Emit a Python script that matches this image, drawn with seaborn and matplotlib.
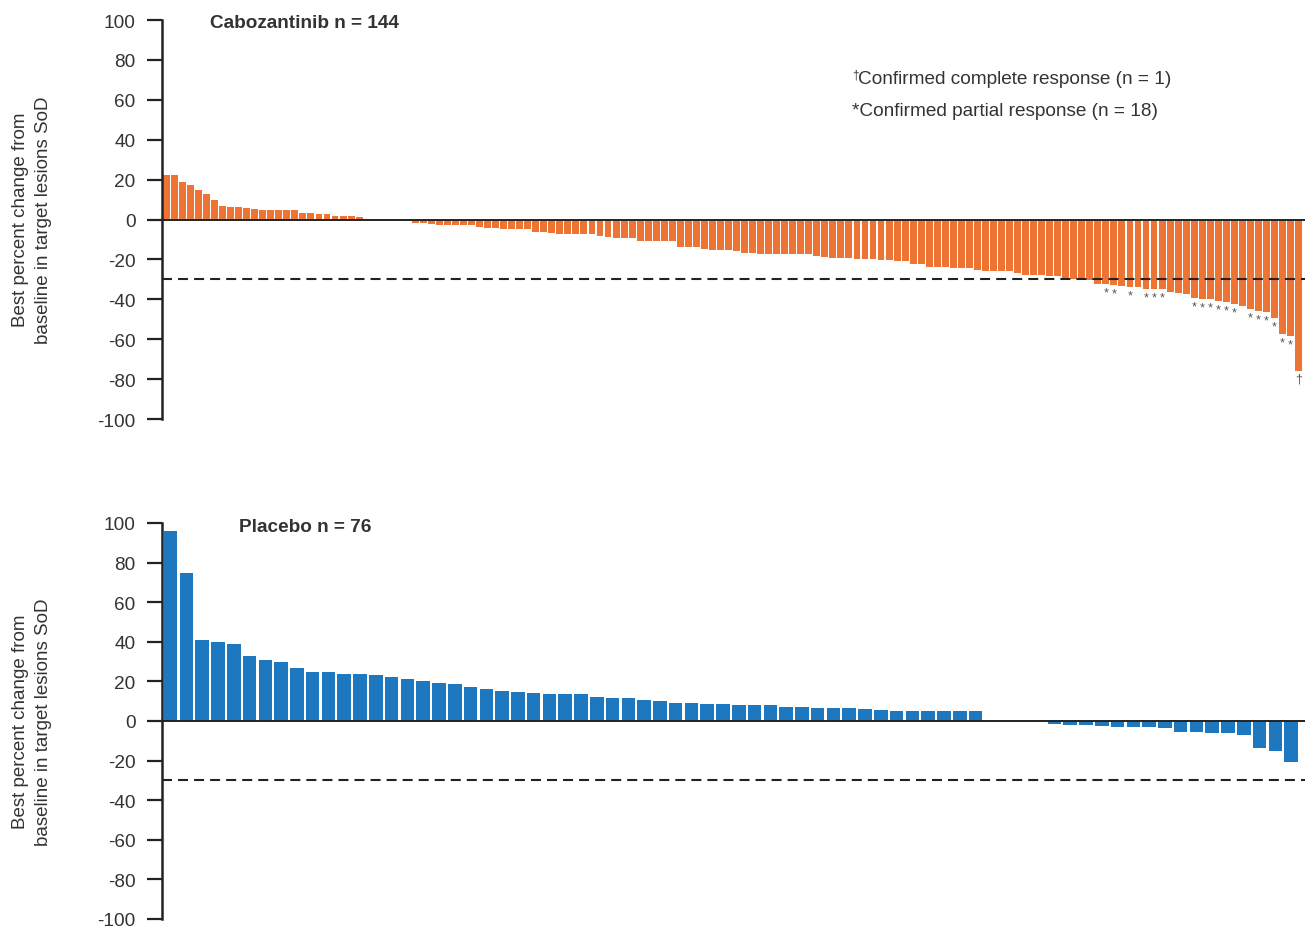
import numpy as np
import pandas as pd
import matplotlib
matplotlib.use("Agg")
import matplotlib.pyplot as plt
import seaborn as sns

# Best percent change from baseline in target-lesion sum of diameters, one bar per patient
cabo_values = [
    22.5, 22.5, 19, 17.5, 15, 12.8, 10, 7, 6.5, 6.5, 6, 5.5, 5, 5, 5, 5, 5,
    3.3, 3.3, 3, 3, 2, 2, 2, 1.3,
    0, 0, 0, 0, 0, 0,
    -1.8, -1.8, -2.2, -2.7, -2.7, -2.7, -3, -3, -3.8, -4.3, -4.3, -4.8, -4.8,
    -4.8, -4.8, -6.2, -6.2, -6.7, -7.2, -7.2, -7.2, -7.2, -7.2, -8.5, -9,
    -9.5, -9.5, -9.5, -10.7, -10.7, -11, -11, -11, -14, -14,
    -14, -14.7, -15.3, -15.3, -15.3, -15.8, -16.7, -17, -17.5, -17.5, -17.5,
    -17.5, -17.5, -17.5, -17.5, -18.3, -18.7, -19.2, -19.2, -19.2, -19.7,
    -19.7, -20, -20.3, -20.3, -20.8, -20.8, -22.2, -22.5, -23.7, -23.7,
    -23.7, -24.2, -24.2, -24.2, -25.5, -25.8, -25.8,
    -25.8, -25.8, -27, -27.8, -27.8, -27.8, -28.3, -28.3, -29.2, -30, -30,
    -30.3, -32.5, -32.5, -33, -33.3, -33.7, -33.7, -34.7, -35, -35, -36.3,
    -36.7, -37.5, -39.2, -39.7, -40, -40.8, -41.3, -42.5, -43.3, -45, -45.8,
    -46.3, -49.2, -57.5, -58.3, -75.8,
]
# bars with a confirmed partial (*) or complete (†) response
cabo_partial_response = [117, 118, 120, 122, 123, 124, 128, 129, 130, 131,
                         132, 133, 135, 136, 137, 138, 139, 140]
cabo_complete_response = [141]

placebo_values = [
    96, 74.5, 41, 40, 39, 33, 31, 30, 27, 24.7,
    24.7, 23.8, 23.8, 23, 22, 21.2, 20.1, 19, 18.6, 17,
    16.1, 15.2, 14.7, 14, 13.5, 13.5, 13.5, 12.2, 11.4, 11.4,
    10.7, 10, 9.3, 9, 8.5, 8.5, 8, 8, 8, 7.3,
    7.3, 6.8, 6.8, 6.8, 6, 5.6, 4.8, 4.8, 4.8, 4.8, 4.8, 4.8,
    0, 0, 0, 0,
    -1.7, -2, -2.2, -2.6, -3.2, -3.2, -3.2, -3.7, -5.4, -5.4, -6.2, -6.2,
    -7.1, -13.5, -15.2, -20.6,
]

y_ticks = [100, 80, 60, 40, 20, 0, -20, -40, -60, -80, -100]
response_threshold = -30
ylabel_text = "Best percent change from\nbaseline in target lesions SoD"
cabo_title = "Cabozantinib n = 144"
placebo_title = "Placebo n = 76"
complete_note = "Confirmed complete response (n = 1)"
partial_note = "*Confirmed partial response (n = 18)"

ORANGE = "#EE7433"
BLUE = "#1D78C0"
INK = "#222222"
TEXT = "#333333"
FS = 13.7

sns.set_theme(style="white")
plt.rcParams["font.family"] = ["Liberation Sans", "DejaVu Sans"]
plt.rcParams["axes.unicode_minus"] = False

W, H = 1305, 929
fig = plt.figure(figsize=(W / 100, H / 100), dpi=100)


def axes_from_px(left, top, right, bottom):
    return fig.add_axes([left / W, 1 - bottom / H, (right - left) / W, (bottom - top) / H])


def fig_xy(x, y):
    return x / W, 1 - y / H


def waterfall(ax, values, color, xmax):
    df = pd.DataFrame({"patient": np.arange(len(values)), "change": values})
    sns.barplot(data=df, x="patient", y="change", color=color, width=0.86,
                saturation=1, edgecolor="none", errorbar=None, ax=ax)
    ax.set_xlim(-0.55, xmax)
    ax.set_ylim(-100, 100)
    ax.set_yticks(y_ticks)
    ax.set_yticklabels([str(t) for t in y_ticks])
    ax.set_xticks([])
    ax.set_xlabel("")
    ax.set_ylabel("")
    for side in ("top", "right", "bottom"):
        ax.spines[side].set_visible(False)
    ax.spines["left"].set_bounds(-100, 100)
    ax.spines["left"].set_color(INK)
    ax.spines["left"].set_linewidth(1.8)
    ax.tick_params(axis="y", left=True, length=11, width=1.6, color=INK,
                   pad=8, labelsize=FS, labelcolor=TEXT)
    ax.axhline(0, color=INK, lw=1.4, zorder=3)
    ax.axhline(response_threshold, color=INK, lw=1.5, ls=(0, (4.8, 2.9)), zorder=3)
    ax.set_facecolor("none")


ax1 = axes_from_px(162, 21, 1305, 420)
ax2 = axes_from_px(162, 524, 1305, 920)

waterfall(ax1, cabo_values, ORANGE, 141.8)
waterfall(ax2, placebo_values, BLUE, 71.88)

# response markers under the bars
for i in cabo_partial_response:
    ax1.text(i, cabo_values[i] - 1.2, "*", ha="center", va="top",
             fontsize=9, color="#555555")
for i in cabo_complete_response:
    ax1.text(i, cabo_values[i] - 0.8, "\u2020", ha="center", va="top",
             fontsize=9, color="#555555")

# panel titles
fig.text(*fig_xy(210, 24), cabo_title, ha="left", va="center",
         fontsize=FS, fontweight="bold", color=TEXT)
fig.text(*fig_xy(239, 527), placebo_title, ha="left", va="center",
         fontsize=FS, fontweight="bold", color=TEXT)

# response notes
fig.text(*fig_xy(852, 75), "\u2020", ha="left", va="center", fontsize=8.5, color=TEXT)
fig.text(*fig_xy(858, 79), complete_note, ha="left", va="center",
         fontsize=FS, color=TEXT)
fig.text(*fig_xy(852, 112), partial_note, ha="left", va="center",
         fontsize=FS, color=TEXT)

# y-axis labels
for yc in (220, 722):
    fig.text(*fig_xy(32, yc), ylabel_text, rotation=90, ha="center", va="center",
             fontsize=13.5, color=TEXT, linespacing=1.5, multialignment="center")

fig.savefig("out.png", dpi=100)
